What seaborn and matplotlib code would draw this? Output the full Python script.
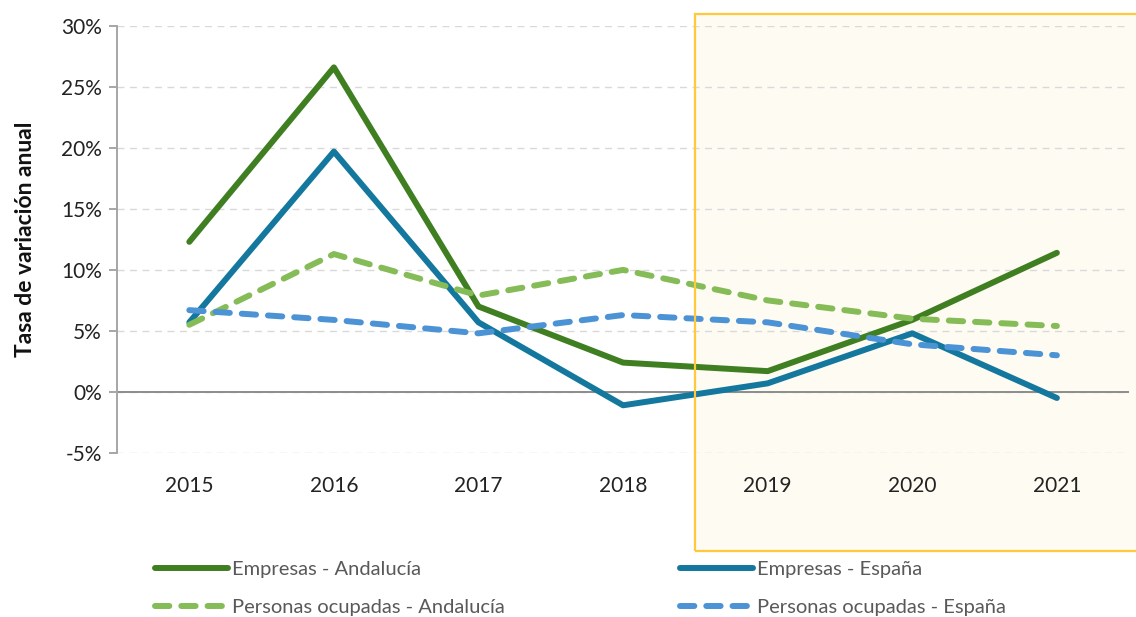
import pandas as pd
import matplotlib.pyplot as plt
import matplotlib.patches as mpatches
from matplotlib.ticker import FuncFormatter
import seaborn as sns

sns.set_theme(style="white")
plt.rcParams['font.family'] = ['Lato', 'DejaVu Sans']

# data (annual rate of change, %)
years = [2015, 2016, 2017, 2018, 2019, 2020, 2021]
empresas_andalucia = [12.3, 26.6, 7.0, 2.4, 1.7, 5.9, 11.4]
empresas_espana = [5.7, 19.7, 5.7, -1.1, 0.7, 4.8, -0.5]
ocupados_andalucia = [5.5, 11.3, 7.9, 10.0, 7.5, 6.0, 5.4]
ocupados_espana = [6.7, 5.9, 4.8, 6.3, 5.7, 3.9, 3.0]

series_names = ["Empresas - Andalucía", "Empresas - España",
                "Personas ocupadas - Andalucía", "Personas ocupadas - España"]
colors = ["#3F7F22", "#13779E", "#86BC57", "#4C93D6"]
yticks = [-5, 0, 5, 10, 15, 20, 25, 30]

df = pd.DataFrame({
    "year": years * 4,
    "value": empresas_andalucia + empresas_espana + ocupados_andalucia + ocupados_espana,
    "serie": [s for s in series_names for _ in years],
})

fig = plt.figure(figsize=(11.36, 6.17), dpi=100)
ax = fig.add_axes([0.103, 0.266, 0.891, 0.692])
ax.patch.set_visible(False)

palette = dict(zip(series_names, colors))
dashes = {series_names[0]: "", series_names[1]: "",
          series_names[2]: (2.4, 2.0), series_names[3]: (2.4, 2.0)}

sns.lineplot(data=df, x="year", y="value", hue="serie", style="serie",
             palette=palette, dashes=dashes, hue_order=series_names,
             style_order=series_names, linewidth=4.3, ax=ax, zorder=3)
for line in ax.get_lines():
    line.set_solid_capstyle("round")
    line.set_dash_capstyle("round")

ax.set_xlim(2014.5, 2021.5)
ax.set_ylim(-5, 30)
ax.set_xticks(years)
ax.set_yticks(yticks)
ax.yaxis.set_major_formatter(FuncFormatter(lambda v, p: f"{v:.0f}%"))
ax.grid(axis="y", color="#D9D9D9", linestyle=(0, (5, 4)), linewidth=1)
ax.axhline(0, color="#8C8C8C", linewidth=1.4, zorder=2)

for s in ["top", "right", "bottom"]:
    ax.spines[s].set_visible(False)
ax.spines["left"].set_color("#A6A6A6")
ax.spines["left"].set_linewidth(1.4)
ax.tick_params(axis="y", length=6, width=1.4, color="#A6A6A6", left=True,
               labelsize=15, labelcolor="#222222", pad=5)
ax.tick_params(axis="x", length=0, labelsize=15, labelcolor="#222222", pad=17)
ax.set_xlabel("")
ax.set_ylabel("Tasa de variación anual", fontsize=16.5, fontweight="bold",
              color="#111111", labelpad=18)

handles, labels = ax.get_legend_handles_labels()
ax.get_legend().remove()
for h in handles:
    h.set_linewidth(4.3)
    h.set_dash_capstyle("round")
    h.set_solid_capstyle("round")

leg_kw = dict(frameon=False, fontsize=14.5, handlelength=3.6, handletextpad=0.2,
              labelspacing=1.05, labelcolor="#595959", loc="upper left")
fig.legend([handles[0], handles[2]], [labels[0], labels[2]],
           bbox_to_anchor=(0.1206, 0.12), **leg_kw)
fig.legend([handles[1], handles[3]], [labels[1], labels[3]],
           bbox_to_anchor=(0.5827, 0.12), **leg_kw)

# highlighted period 2019-2021: fill under the lines, border on top
fig.patches.append(mpatches.Rectangle(
    (0.6118, 0.107), 0.45, 0.870, transform=fig.transFigure,
    facecolor="#FEFBF2", edgecolor="none", zorder=-1))
fig.patches.append(mpatches.Rectangle(
    (0.6118, 0.107), 0.45, 0.870, transform=fig.transFigure,
    facecolor="none", edgecolor="#FFC83D", linewidth=1.6, zorder=10))

fig.savefig("out.png", dpi=100)
